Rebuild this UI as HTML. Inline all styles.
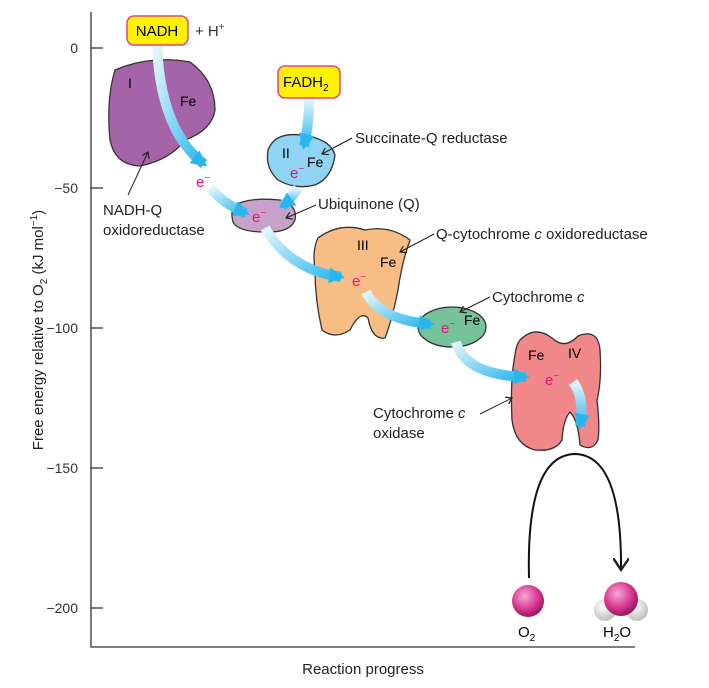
<!DOCTYPE html>
<html><head><meta charset="utf-8"><style>
body{margin:0;background:#fff}
svg{display:block;font-family:"Liberation Sans","DejaVu Sans",sans-serif}
</style></head><body>
<svg width="709" height="688" viewBox="0 0 709 688" xmlns="http://www.w3.org/2000/svg">
<defs>
<linearGradient id="ar" x1="0" y1="0" x2="1" y2="1"><stop offset="0" stop-color="#e6f6fd"/><stop offset="1" stop-color="#29b6ec"/></linearGradient>
<linearGradient id="ar2" x1="0" y1="0" x2="0" y2="1"><stop offset="0" stop-color="#e6f6fd"/><stop offset="1" stop-color="#29b6ec"/></linearGradient>
<radialGradient id="sp" cx="0.4" cy="0.35" r="0.7"><stop offset="0" stop-color="#f7a8d6"/><stop offset="0.6" stop-color="#d8358f"/><stop offset="1" stop-color="#8a1458"/></radialGradient>
<radialGradient id="wh" cx="0.4" cy="0.35" r="0.7"><stop offset="0" stop-color="#fff"/><stop offset="1" stop-color="#bbb"/></radialGradient>
<marker id="ah" markerWidth="8" markerHeight="8" refX="6" refY="4" orient="auto"><path d="M0,0 L6,4 L0,8" fill="none" stroke="#222" stroke-width="1.2"/></marker>
<marker id="ab" markerWidth="16" markerHeight="16" refX="12" refY="8" orient="auto" markerUnits="userSpaceOnUse"><path d="M0,0 L16,8 L0,16 Z" fill="#29b6ec"/></marker>
</defs>
<g stroke="#333" stroke-width="1.3" fill="none">
<path d="M91,12 V647 H635"/>
<path d="M91,48 H103 M91,188 H103 M91,328 H103 M91,468 H103 M91,608 H103"/>
</g>
<g font-size="14" fill="#333" text-anchor="end">
<text x="78" y="53">0</text><text x="78" y="193">−50</text><text x="78" y="333">−100</text><text x="78" y="473">−150</text><text x="78" y="613">−200</text>
</g>
<text transform="translate(43,330) rotate(-90)" font-size="15" fill="#222" text-anchor="middle">Free energy relative to O<tspan font-size="10" dy="4">2</tspan><tspan dy="-4"> (kJ mol</tspan><tspan font-size="10" dy="-6">−1</tspan><tspan dy="6">)</tspan></text>
<text x="363" y="674" font-size="15" fill="#222" text-anchor="middle">Reaction progress</text>

<path d="M115,70 Q150,55 190,62 Q215,80 215,110 Q212,130 185,140 Q170,160 140,166 Q115,165 110,140 Q106,100 115,70Z" fill="#a564a8" stroke="#333" stroke-width="1.3"/>
<text x="128" y="88" font-size="14">I</text><text x="180" y="106" font-size="14">Fe</text>
<path d="M268,150 Q275,132 300,135 Q330,138 335,155 Q332,178 315,185 Q295,190 278,180 Q265,168 268,150Z" fill="#8fd4f3" stroke="#333" stroke-width="1.3"/>
<text x="282" y="158" font-size="14">II</text><text x="307" y="167" font-size="14">Fe</text>
<path d="M235,205 Q250,197 280,200 Q298,205 295,220 Q290,233 265,232 Q238,232 233,222 Q230,210 235,205Z" fill="#c6a2ca" stroke="#333" stroke-width="1.3"/>
<path d="M318,238 Q340,222 365,230 Q390,225 410,240 Q402,262 398,290 Q392,320 385,338 Q372,340 368,318 Q360,310 350,330 Q335,340 322,330 Q315,300 315,270 Q312,250 318,238Z" fill="#f8bd85" stroke="#333" stroke-width="1.3"/>
<text x="357" y="250" font-size="14">III</text><text x="380" y="267" font-size="14">Fe</text>
<ellipse cx="452" cy="327" rx="34" ry="20" fill="#78c29b" stroke="#333" stroke-width="1.3"/>
<text x="464" y="325" font-size="14">Fe</text>
<path d="M520,340 Q535,325 552,338 Q565,350 578,336 Q598,328 600,350 Q602,380 597,400 Q600,425 598,440 Q592,452 580,445 Q578,420 570,412 Q563,420 562,440 Q555,452 535,450 Q515,445 512,420 Q510,380 515,355 Q516,345 520,340Z" fill="#f0878b" stroke="#333" stroke-width="1.3"/>
<text x="528" y="360" font-size="14">Fe</text><text x="568" y="358" font-size="14">IV</text>

<g fill="none" stroke-width="10" stroke-linecap="butt">
<path d="M157,44 Q160,130 204,164" stroke="url(#ar)" marker-end="url(#ab)"/>
<path d="M309,98 Q309,125 304,146" stroke="url(#ar2)" marker-end="url(#ab)"/>
<path d="M210,188 Q225,205 246,213" stroke="url(#ar)" marker-end="url(#ab)"/>
<path d="M298,188 Q290,200 282,206" stroke="url(#ar2)" marker-end="url(#ab)"/>
<path d="M265,228 Q290,270 341,277" stroke="url(#ar)" marker-end="url(#ab)"/>
<path d="M366,292 Q380,320 431,324" stroke="url(#ar)" marker-end="url(#ab)"/>
<path d="M456,342 Q465,375 526,377" stroke="url(#ar)" marker-end="url(#ab)"/>
<path d="M573,382 Q585,398 580,426" stroke="url(#ar2)" marker-end="url(#ab)"/>
</g>
<g fill="#e0157f" font-size="15">
<text x="196" y="187">e<tspan font-size="10" dy="-6">−</tspan></text>
<text x="290" y="178">e<tspan font-size="10" dy="-6">−</tspan></text>
<text x="252" y="222">e<tspan font-size="10" dy="-6">−</tspan></text>
<text x="352" y="286">e<tspan font-size="10" dy="-6">−</tspan></text>
<text x="441" y="333">e<tspan font-size="10" dy="-6">−</tspan></text>
<text x="545" y="385">e<tspan font-size="10" dy="-6">−</tspan></text>
</g>

<rect x="127" y="16" width="61" height="29" rx="7" fill="#fff200" stroke="#e0457f" stroke-width="1.5"/>
<text x="157" y="36" font-size="15" text-anchor="middle">NADH</text>
<text x="195" y="36" font-size="15" fill="#333">+ H<tspan font-size="10" dy="-6">+</tspan></text>
<rect x="278" y="66" width="62" height="32" rx="7" fill="#fff200" stroke="#e0457f" stroke-width="1.5"/>
<text x="283" y="87" font-size="15">FADH<tspan font-size="10" dy="4">2</tspan></text>

<g font-size="15" fill="#222">
<text x="103" y="215">NADH-Q</text><text x="103" y="235">oxidoreductase</text>
<text x="355" y="143">Succinate-Q reductase</text>
<text x="318" y="209">Ubiquinone (Q)</text>
<text x="436" y="239">Q-cytochrome <tspan font-style="italic">c</tspan> oxidoreductase</text>
<text x="492" y="302">Cytochrome <tspan font-style="italic">c</tspan></text>
<text x="373" y="418">Cytochrome <tspan font-style="italic">c</tspan></text><text x="373" y="438">oxidase</text>
</g>
<g stroke="#222" stroke-width="1" fill="none" marker-end="url(#ah)">
<path d="M128,195 L148,152"/>
<path d="M352,138 L322,154"/>
<path d="M316,205 L286,218"/>
<path d="M434,234 L400,252"/>
<path d="M490,297 L460,312"/>
<path d="M480,414 L512,398"/>
</g>

<path d="M529,578 Q526,455 575,454 Q622,455 621,570" fill="none" stroke="#111" stroke-width="2" marker-end="url(#ah)"/>
<circle cx="528" cy="601" r="16" fill="url(#sp)"/>
<circle cx="605" cy="610" r="11" fill="url(#wh)"/>
<circle cx="637" cy="610" r="11" fill="url(#wh)"/>
<circle cx="621" cy="599" r="17" fill="url(#sp)"/>
<text x="518" y="637" font-size="15">O<tspan font-size="10" dy="4">2</tspan></text>
<text x="603" y="637" font-size="15">H<tspan font-size="10" dy="4">2</tspan><tspan dy="-4">O</tspan></text>
</svg>
</body></html>
